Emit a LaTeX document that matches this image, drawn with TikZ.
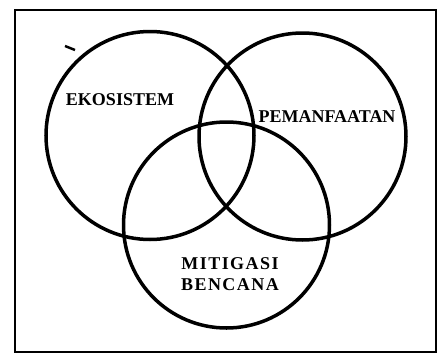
\documentclass[tikz,border=0pt]{standalone}
\usepackage{fontspec}
\setmainfont{Liberation Serif}
\begin{document}
\begin{tikzpicture}[x=1pt, y=-1pt]
        \useasboundingbox (0,0) rectangle (442,354);
        \tikzset{lingkaran/.style={line width=3.5pt},
                 label/.style={font=\fontsize{18}{20}\selectfont\bfseries, align=center, inner sep=0pt}}
        
        % bingkai
        \draw[line width=2pt] (14.5,10) rectangle (436,352);
        
        % pusat lingkaran
        \coordinate (E) at (150,135.5);   % ekosistem
        \coordinate (P) at (302.5,136.5); % pemanfaatan
        \coordinate (M) at (226.5,225);   % mitigasi bencana
        
        % lingkaran
        \draw[lingkaran] (E) circle (104);
        \draw[lingkaran] (P) circle (103.5);
        \draw[lingkaran] (M) circle (103);
        
        % coretan kecil
        \draw[line width=2.5pt] (65,46) -- (75,50);
        
        % label
        \node[label] (ekosistem) at (120,100) {EKOSISTEM};
        \node[label] (pemanfaatan) at (327,117) {PEMANFAATAN};
        \node[label, font=\fontsize{18}{21}\selectfont\bfseries\addfontfeature{LetterSpace=8}] (mitigasi) at (230,274.5) {MITIGASI\\BENCANA};
        
    \end{tikzpicture}
\end{document}
